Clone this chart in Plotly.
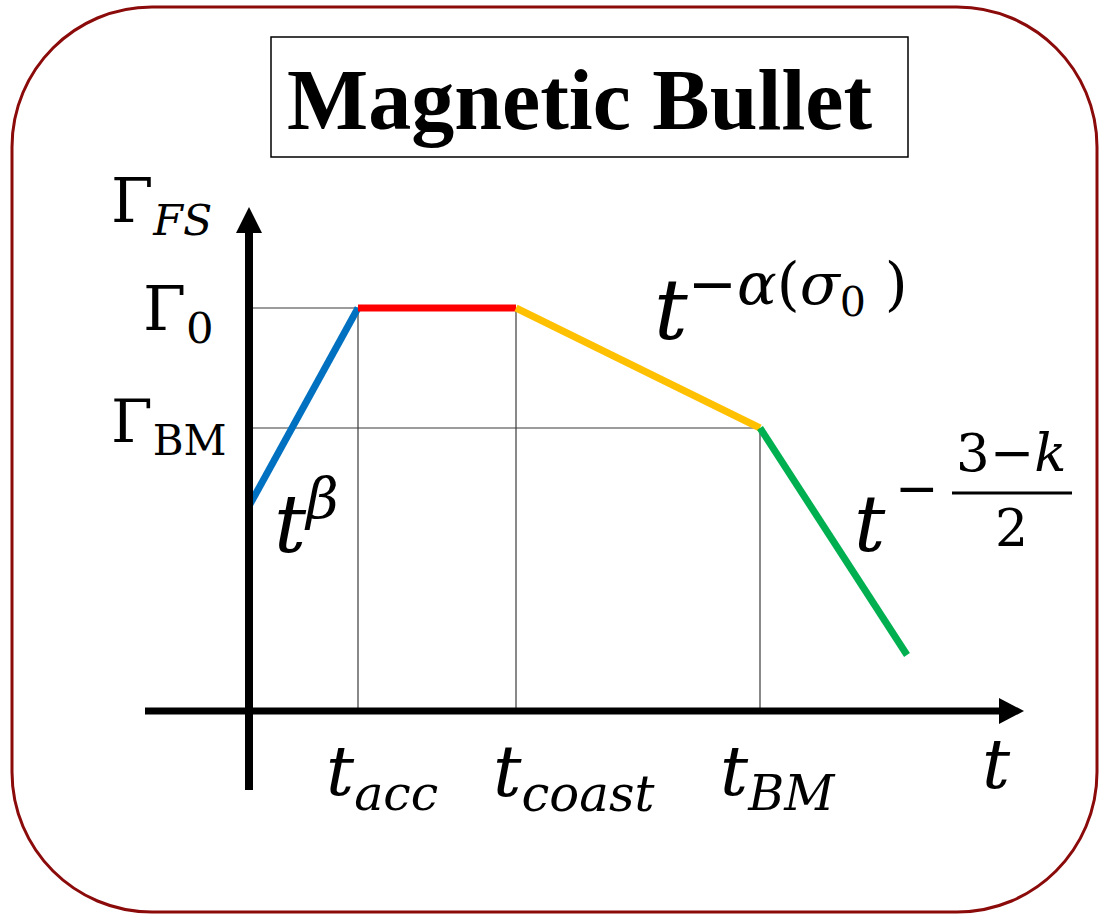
import plotly.graph_objects as go

# Schematic Lorentz-factor evolution of a magnetic bullet (arbitrary units,
# origin at the crossing of the two axes).
t_knots = [0, 109, 267, 511, 658]          # start, t_acc, t_coast, t_BM, end
gamma_knots = [205, 403, 403, 283, 56]     # Γ at each knot
seg_colors = ["#0070C0", "#FF0000", "#FFC000", "#00B050"]

T_ACC, T_COAST, T_BM = t_knots[1], t_knots[2], t_knots[3]
G_0, G_BM = gamma_knots[1], gamma_knots[3]

W, H = 1102, 918
X0, Y0 = 249, 711  # pixel position of the axis origin


def P(xp, yp):
    """Page pixel -> axis units (1:1 scale)."""
    return xp - X0, Y0 - yp


fig = go.Figure()

# coloured power-law segments
for i, c in enumerate(seg_colors):
    fig.add_trace(go.Scatter(
        x=t_knots[i:i + 2], y=gamma_knots[i:i + 2], mode="lines",
        line=dict(color=c, width=7), hoverinfo="skip"))

shapes = []
guide = dict(color="#3a3a3a", width=1.2)
# guide lines
shapes.append(dict(type="line", x0=0, x1=T_COAST, y0=G_0, y1=G_0, line=guide, layer="below"))
shapes.append(dict(type="line", x0=0, x1=T_BM, y0=G_BM, y1=G_BM, line=guide, layer="below"))
shapes.append(dict(type="line", x0=T_ACC, x1=T_ACC, y0=0, y1=G_0, line=guide, layer="below"))
shapes.append(dict(type="line", x0=T_COAST, x1=T_COAST, y0=0, y1=G_0, line=guide, layer="below"))
shapes.append(dict(type="line", x0=T_BM, x1=T_BM, y0=0, y1=G_BM, line=guide, layer="below"))

# axes with arrowheads
a, b = P(249, 790); c, d = P(249, 228)
shapes.append(dict(type="line", x0=a, y0=b, x1=c, y1=d, line=dict(color="black", width=8)))
a, b = P(145, 711); c, d = P(1003, 711)
shapes.append(dict(type="line", x0=a, y0=b, x1=c, y1=d, line=dict(color="black", width=7)))


def tri(pts):
    q = [P(*p) for p in pts]
    return "M {} {} L {} {} L {} {} Z".format(q[0][0], q[0][1], q[1][0], q[1][1], q[2][0], q[2][1])


shapes.append(dict(type="path", path=tri([(236, 233), (262, 233), (249, 207)]),
                   fillcolor="black", line=dict(width=0)))
shapes.append(dict(type="path", path=tri([(999, 698), (999, 724), (1024, 711)]),
                   fillcolor="black", line=dict(width=0)))

# title box
a, b = P(271, 157); c, d = P(908, 37)
shapes.append(dict(type="rect", x0=a, y0=b, x1=c, y1=d, line=dict(color="black", width=1.5)))

# rounded outer frame
l, t = P(12, 7)
r, bt = P(1097, 912)
R = 140
k = 0.5523 * R
frame = (
    f"M {l + R} {t} L {r - R} {t} "
    f"C {r - R + k} {t} {r} {t - R + k} {r} {t - R} "
    f"L {r} {bt + R} "
    f"C {r} {bt + R - k} {r - R + k} {bt} {r - R} {bt} "
    f"L {l + R} {bt} "
    f"C {l + R - k} {bt} {l} {bt + R - k} {l} {bt + R} "
    f"L {l} {t - R} "
    f"C {l} {t - R + k} {l + R - k} {t} {l + R} {t} Z"
)
shapes.append(dict(type="path", path=frame, line=dict(color="#8B0A0A", width=3)))

MATH = "DejaVu Serif"
ann = []


def label(xp, yp, text, size=62, xanchor="left", yanchor="middle", family=MATH):
    x, y = P(xp, yp)
    ann.append(dict(x=x, y=y, text=text, showarrow=False, xanchor=xanchor, yanchor=yanchor,
                    font=dict(family=family, size=size, color="black")))


label(580, 100, "<b>Magnetic Bullet</b>", size=86, xanchor="center", family="Liberation Serif")

label(109, 205, "Γ<sub><i>FS</i></sub>", size=61)
label(141, 312, "Γ<sub>0</sub>", size=62)
label(109, 425, "Γ<sub>BM</sub>", size=60)

label(272, 518, "<i>t</i><sup><i>β</i></sup>", size=80)
label(652, 304, "<i>t</i><sup>−<i>α</i>(<i>σ</i><sub>0</sub> )</sup>", size=84)

# t^{-(3-k)/2}
label(852, 524, "<i>t</i>", size=78)
label(893, 488, "−", size=52)
label(1011, 452, "3−<i>k</i>", size=53, xanchor="center")
label(1011, 528, "2", size=52, xanchor="center")
a, b = P(952, 493); c, d = P(1072, 493)
shapes.append(dict(type="line", x0=a, y0=b, x1=c, y1=d, line=dict(color="black", width=3)))

label(382, 776, "<i>t</i><sub><i>acc</i></sub>", size=70, xanchor="center")
label(574, 776, "<i>t</i><sub><i>coast</i></sub>", size=71, xanchor="center")
label(778, 776, "<i>t</i><sub><i>BM</i></sub>", size=70, xanchor="center")
label(996, 764, "<i>t</i>", size=70, xanchor="center")

fig.update_layout(
    width=W, height=H, margin=dict(l=0, r=0, t=0, b=0),
    paper_bgcolor="white", plot_bgcolor="white", showlegend=False,
    shapes=shapes, annotations=ann,
    xaxis=dict(range=[-X0, W - X0], visible=False, fixedrange=True),
    yaxis=dict(range=[Y0 - H, Y0], visible=False, fixedrange=True),
)

fig.write_html("out.html")
